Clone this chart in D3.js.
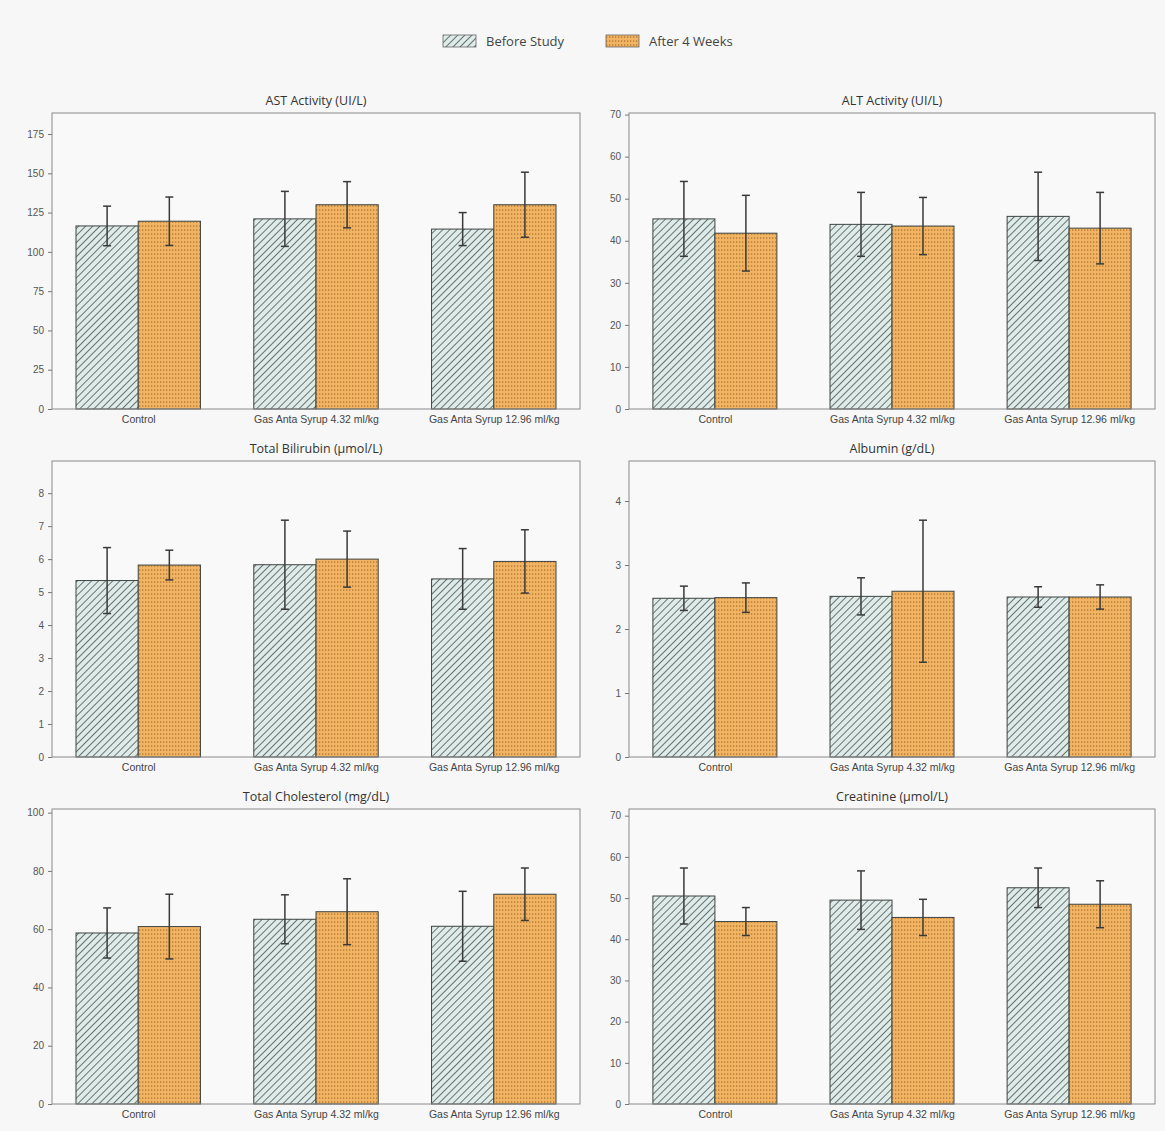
<!DOCTYPE html>
<html>
<head>
<meta charset="utf-8">
<script src="https://cdn.jsdelivr.net/npm/d3@7"></script>
<style>
  body { margin: 0; background: #f7f7f7; }
  svg { display: block; font-family: "Open Sans", sans-serif; }
</style>
</head>
<body>
<svg id="chart" width="1165" height="1131"></svg>
<script>
// groups on the x axis
const groups = ["Control", "Gas Anta Syrup 4.32 ml/kg", "Gas Anta Syrup 12.96 ml/kg"];
const seriesNames = ["Before Study", "After 4 Weeks"];

const panelTitles = [
    "AST Activity (UI/L)", "ALT Activity (UI/L)",
    "Total Bilirubin (\u00b5mol/L)", "Albumin (g/dL)",
    "Total Cholesterol (mg/dL)", "Creatinine (\u00b5mol/L)"
];

// means, one row per panel: [before x3], [after x3]
const astBefore = [116.5, 121, 114.5], astAfter = [119.5, 130, 130];
const altBefore = [45.2, 43.9, 45.8],  altAfter = [41.8, 43.5, 43];
const bilBefore = [5.35, 5.83, 5.4],   bilAfter = [5.82, 6.0, 5.93];
const albBefore = [2.48, 2.51, 2.5],   albAfter = [2.49, 2.59, 2.5];
const cholBefore = [58.7, 63.4, 61],   cholAfter = [60.9, 66, 72];
const creBefore = [50.5, 49.5, 52.5],  creAfter = [44.3, 45.3, 48.5];

// standard deviations
const astBeforeSd = [12.6, 17.5, 10.5], astAfterSd = [15.4, 14.7, 20.7];
const altBeforeSd = [8.9, 7.6, 10.5],   altAfterSd = [9, 6.8, 8.5];
const bilBeforeSd = [1.0, 1.35, 0.92],  bilAfterSd = [0.45, 0.85, 0.96];
const albBeforeSd = [0.19, 0.29, 0.16], albAfterSd = [0.23, 1.11, 0.19];
const cholBeforeSd = [8.6, 8.4, 12],    cholAfterSd = [11.1, 11.3, 9];
const creBeforeSd = [6.8, 7.1, 4.8],    creAfterSd = [3.4, 4.4, 5.7];

// y tick labels per panel
const astTicks = [0, 25, 50, 75, 100, 125, 150, 175];
const altTicks = [0, 10, 20, 30, 40, 50, 60, 70];
const bilTicks = [0, 1, 2, 3, 4, 5, 6, 7, 8];
const albTicks = [0, 1, 2, 3, 4];
const cholTicks = [0, 20, 40, 60, 80, 100];
const creTicks = [0, 10, 20, 30, 40, 50, 60, 70];

const panels = [
    { before: astBefore, after: astAfter, bSd: astBeforeSd, aSd: astAfterSd, ticks: astTicks },
    { before: altBefore, after: altAfter, bSd: altBeforeSd, aSd: altAfterSd, ticks: altTicks },
    { before: bilBefore, after: bilAfter, bSd: bilBeforeSd, aSd: bilAfterSd, ticks: bilTicks },
    { before: albBefore, after: albAfter, bSd: albBeforeSd, aSd: albAfterSd, ticks: albTicks },
    { before: cholBefore, after: cholAfter, bSd: cholBeforeSd, aSd: cholAfterSd, ticks: cholTicks },
    { before: creBefore, after: creAfter, bSd: creBeforeSd, aSd: creAfterSd, ticks: creTicks }
];

const svg = d3.select("#chart");
const defs = svg.append("defs");

const beforeFill = "#deebe8";
const afterFill = "#f2b462";

// hatch for "before"
const hatch = defs.append("pattern")
    .attr("id", "hatch")
    .attr("patternUnits", "userSpaceOnUse")
    .attr("width", 5).attr("height", 5)
    .attr("patternTransform", "rotate(45)");
hatch.append("rect").attr("width", 5).attr("height", 5).attr("fill", beforeFill);
hatch.append("line")
    .attr("x1", 0).attr("y1", 0).attr("x2", 0).attr("y2", 5)
    .attr("stroke", "#4a5654").attr("stroke-width", 1.6);

// dots for "after"
const dots = defs.append("pattern")
    .attr("id", "dots")
    .attr("patternUnits", "userSpaceOnUse")
    .attr("width", 3).attr("height", 4);
dots.append("rect").attr("width", 3).attr("height", 4).attr("fill", afterFill);
dots.append("rect").attr("x", 1).attr("y", 1.5).attr("width", 1.3).attr("height", 1.1)
    .attr("fill", "#9a6a2a");

// layout
const cols = [{ x0: 52, x1: 580 }, { x0: 629, x1: 1155 }];
const rows = [{ y0: 113, y1: 409 }, { y0: 461, y1: 757 }, { y0: 809, y1: 1104 }];
const barWidth = 0.35;

panels.forEach((p, i) => {
    const col = cols[i % 2], row = rows[Math.floor(i / 2)];
    const g = svg.append("g");

    const x = d3.scaleLinear().domain([-0.485, 2.485]).range([col.x0, col.x1]);
    const tops = p.before.map((v, k) => v + p.bSd[k]).concat(p.after.map((v, k) => v + p.aSd[k]));
    const y = d3.scaleLinear().domain([0, d3.max(tops) * 1.25]).range([row.y1, row.y0]);

    g.append("rect")
        .attr("x", col.x0).attr("y", row.y0)
        .attr("width", col.x1 - col.x0).attr("height", row.y1 - row.y0)
        .attr("fill", "#f9f9f9");

    const bars = [];
    groups.forEach((name, k) => {
        bars.push({ cx: k - barWidth / 2, v: p.before[k], sd: p.bSd[k], fill: "url(#hatch)" });
        bars.push({ cx: k + barWidth / 2, v: p.after[k], sd: p.aSd[k], fill: "url(#dots)" });
    });

    g.selectAll("rect.bar").data(bars).enter().append("rect")
        .attr("class", "bar")
        .attr("x", d => x(d.cx - barWidth / 2))
        .attr("width", d => x(barWidth) - x(0))
        .attr("y", d => y(d.v))
        .attr("height", d => y(0) - y(d.v))
        .attr("fill", d => d.fill)
        .attr("stroke", "#3d4442")
        .attr("stroke-width", 1);

    // error bars
    const eb = g.selectAll("g.err").data(bars).enter().append("g").attr("class", "err")
        .attr("stroke", "#3a3a3a").attr("stroke-width", 1.5);
    eb.append("line")
        .attr("x1", d => x(d.cx)).attr("x2", d => x(d.cx))
        .attr("y1", d => y(d.v - d.sd)).attr("y2", d => y(d.v + d.sd));
    eb.append("line")
        .attr("x1", d => x(d.cx) - 4).attr("x2", d => x(d.cx) + 4)
        .attr("y1", d => y(d.v + d.sd)).attr("y2", d => y(d.v + d.sd));
    eb.append("line")
        .attr("x1", d => x(d.cx) - 4).attr("x2", d => x(d.cx) + 4)
        .attr("y1", d => y(d.v - d.sd)).attr("y2", d => y(d.v - d.sd));

    // frame
    g.append("rect")
        .attr("x", col.x0).attr("y", row.y0)
        .attr("width", col.x1 - col.x0).attr("height", row.y1 - row.y0)
        .attr("fill", "none").attr("stroke", "#8a8a8a").attr("stroke-width", 1);

    // y axis
    const yAxis = g.append("g")
        .attr("transform", `translate(${col.x0},0)`)
        .call(d3.axisLeft(y).tickValues(p.ticks).tickFormat(d3.format("d")).tickSize(4).tickPadding(4));
    yAxis.select(".domain").remove();
    yAxis.selectAll("line").attr("stroke", "#777");
    yAxis.selectAll("text").attr("fill", "#555").attr("font-size", 10);

    // x axis
    const xAxis = g.append("g")
        .attr("transform", `translate(0,${row.y1})`)
        .call(d3.axisBottom(x).tickValues([0, 1, 2]).tickFormat(k => groups[k]).tickSize(0).tickPadding(7));
    xAxis.select(".domain").remove();
    xAxis.selectAll("text").attr("fill", "#444").attr("font-size", 10.5);

    // title
    g.append("text")
        .attr("x", (col.x0 + col.x1) / 2).attr("y", row.y0 - 8)
        .attr("text-anchor", "middle")
        .attr("font-size", 12.5).attr("fill", "#333")
        .text(panelTitles[i]);
});

// legend
const legend = svg.append("g").attr("transform", "translate(443,35)");
const legendItems = [
    { name: seriesNames[0], fill: "url(#hatch)", x: 0 },
    { name: seriesNames[1], fill: "url(#dots)", x: 163 }
];
legendItems.forEach(it => {
    legend.append("rect")
        .attr("x", it.x).attr("y", 0).attr("width", 33).attr("height", 12)
        .attr("fill", it.fill).attr("stroke", "#666").attr("stroke-width", 0.8);
    legend.append("text")
        .attr("x", it.x + 43).attr("y", 11)
        .attr("font-size", 13).attr("fill", "#444")
        .text(it.name);
});
</script>
</body>
</html>
